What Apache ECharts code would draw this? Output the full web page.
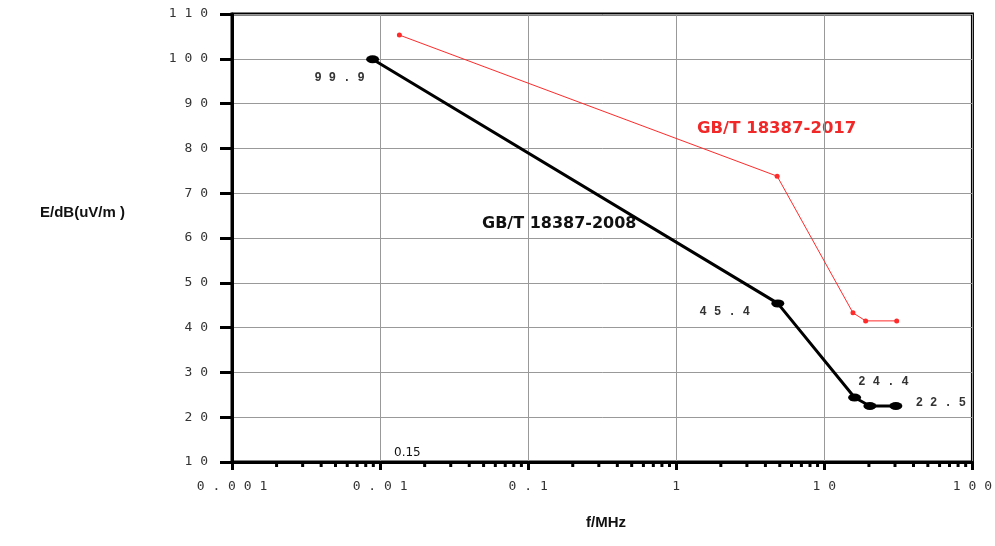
<!DOCTYPE html>
<html><head><meta charset="utf-8">
<script src="https://cdn.jsdelivr.net/npm/echarts@6/dist/echarts.min.js"></script>
<style>html,body{margin:0;padding:0;background:#fff}#c{width:995px;height:546px}</style>
</head><body><div id="c"></div>
<script>
const freq2008 = [0.0089, 4.85, 16, 20.3, 30.4];
const lim2008 = [99.9, 45.4, 24.4, 22.5, 22.5];
const freq2017 = [0.0135, 4.8, 15.6, 19, 30.8];
const lim2017 = [105.3, 73.8, 43.3, 41.5, 41.5];
const xTickLabels = ['0.001', '0.01', '0.1', '1', '10', '100'];
const minorMultipliers = [2, 3, 4, 5, 6, 7, 8, 9];
const decades = [0.001, 0.01, 0.1, 1, 10];

const spaced = s => String(s).split('').join(' ');
const minorData = [];
decades.forEach(d => minorMultipliers.forEach(m => minorData.push([d * m, 10])));

// label placement per point of the 2008 series (index -> offset)
const labelCfg2008 = {
  0: {offset: [-33, 19]},
  1: {offset: [-53, 9]},
  2: {offset: [29, -16]},
  4: {offset: [45, -3]}
};
const valFont = {fontFamily: 'Liberation Mono', fontWeight: 'bold', fontSize: 12, color: '#333'};
const tickFont = {fontFamily: 'DejaVu Sans Mono', fontSize: 13, color: '#333'};

const data2008 = freq2008.map((f, i) => {
  const item = {value: [f, lim2008[i]]};
  if (labelCfg2008[i]) {
    item.label = Object.assign({show: true, position: 'inside', formatter: spaced(lim2008[i].toFixed(1))}, valFont, labelCfg2008[i]);
  }
  return item;
});

const chart = echarts.init(document.getElementById('c'));
chart.setOption({
  animation: false,
  backgroundColor: '#fff',
  grid: {left: 232, right: 20, top: 14, bottom: 84, show: true, borderColor: '#000', borderWidth: 3, backgroundColor: 'transparent'},
  xAxis: {
    type: 'log', logBase: 10, min: 0.001, max: 100,
    axisLine: {lineStyle: {color: '#000', width: 3}},
    axisTick: {show: true, inside: false, length: 8, lineStyle: {color: '#000', width: 3}},
    splitLine: {show: true, lineStyle: {color: '#999', width: 1}},
    axisLabel: Object.assign({
      margin: 18,
      formatter: v => spaced(xTickLabels[Math.round(Math.log10(v)) + 3] || '')
    }, tickFont)
  },
  yAxis: {
    type: 'value', min: 10, max: 110, interval: 10,
    axisLine: {show: true, lineStyle: {color: '#000', width: 3}},
    axisTick: {show: true, inside: false, length: 12, lineStyle: {color: '#000', width: 3}},
    splitLine: {show: true, lineStyle: {color: '#999', width: 1}},
    axisLabel: Object.assign({margin: 24, formatter: v => spaced(v)}, tickFont)
  },
  graphic: [
    {type: 'text', left: 40, top: 205, style: {text: 'E/dB(uV/m )', font: 'bold 15px "Liberation Sans"', fill: '#111'}},
    {type: 'text', left: 586, top: 515, style: {text: 'f/MHz', font: 'bold 15px "Liberation Sans"', fill: '#111'}},
    {type: 'text', left: 394, top: 447, style: {text: '0.15', font: '12px "DejaVu Sans"', fill: '#111'}},
    {type: 'text', left: 697, top: 120, style: {text: 'GB/T 18387-2017', font: 'bold 16.5px "DejaVu Sans"', fill: '#f02828'}},
    {type: 'text', left: 482, top: 216, style: {text: 'GB/T 18387-2008', font: 'bold 16px "DejaVu Sans"', fill: '#111'}}
  ],
  series: [
    {
      type: 'custom', data: minorData, clip: false, silent: true, z: 1,
      renderItem: (params, api) => {
        const p = api.coord([api.value(0), api.value(1)]);
        return {type: 'line', shape: {x1: p[0], y1: p[1], x2: p[0], y2: p[1] + 5}, style: {stroke: '#000', lineWidth: 3}};
      }
    },
    {
      type: 'line', data: freq2017.map((f, i) => [f, lim2017[i]]),
      lineStyle: {color: '#ff2a2a', width: 1}, itemStyle: {color: '#ff2a2a'},
      symbol: 'circle', symbolSize: 5, z: 3
    },
    {
      type: 'line', data: data2008,
      lineStyle: {color: '#000', width: 3}, itemStyle: {color: '#000'},
      symbol: 'circle', symbolSize: [13, 8], z: 4
    }
  ]
});
</script></body></html>
